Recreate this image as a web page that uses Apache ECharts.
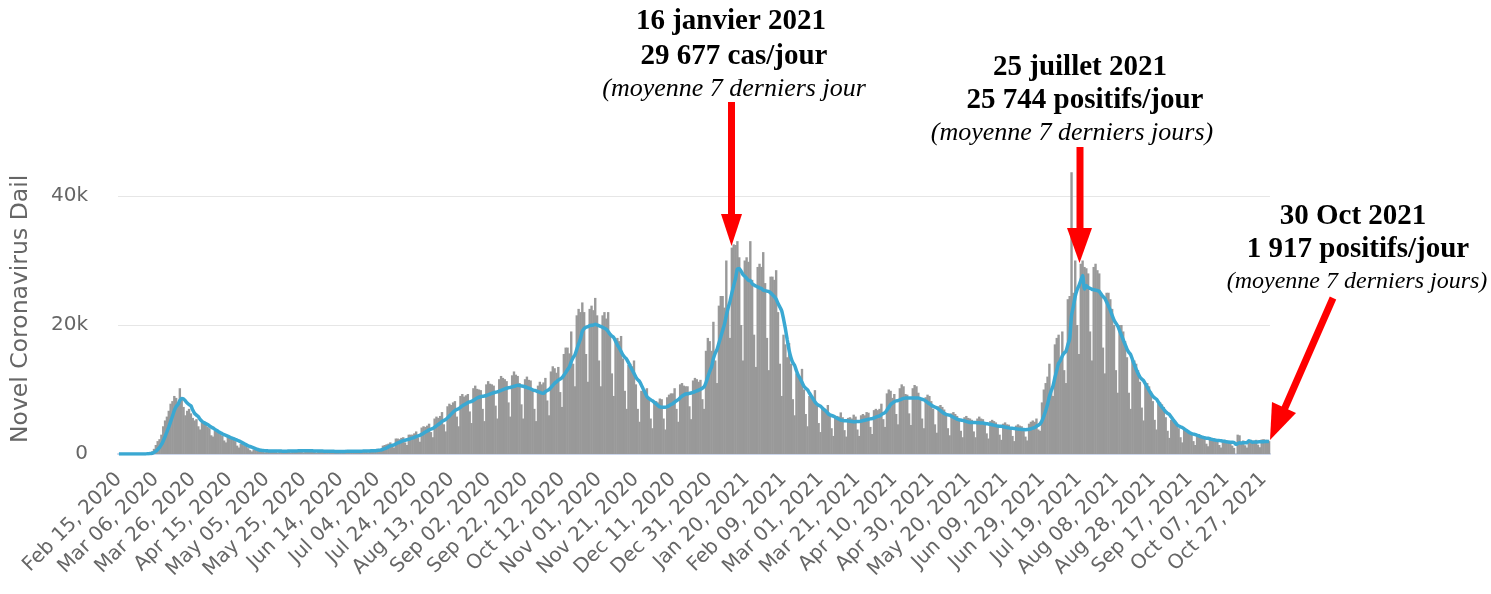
<!DOCTYPE html>
<html>
<head>
<meta charset="utf-8">
<title>France - cas quotidiens</title>
<script src="https://cdn.jsdelivr.net/npm/echarts@6/dist/echarts.min.js"></script>
<style>
  html, body { margin: 0; padding: 0; background: #fff; }
  #main { width: 1491px; height: 594px; }
</style>
</head>
<body>
<div id="main"></div>
<script>
// premier jour de la série : 15 février 2020
var startYear = 2020, startMonth = 1, startDay = 15;
var monthNames = ['Jan', 'Feb', 'Mar', 'Apr', 'May', 'Jun', 'Jul', 'Aug', 'Sep', 'Oct', 'Nov', 'Dec'];

// cas quotidiens, une ligne = une semaine (samedi -> vendredi)
var dailyCases = [
  0, 0, 0, 0, 0, 0, 0,
  0, 0, 0, 2, 4, 20, 40,
  30, 60, 100, 200, 400, 800, 1400,
  2000, 2300, 3000, 4300, 5200, 5800, 6700,
  7800, 8200, 9000, 8700, 7600, 10200, 8800,
  7300, 6000, 6700, 7000, 6300, 5600, 5200,
  5400, 4300, 3800, 5000, 4800, 4500, 4200,
  4000, 2900, 2700, 3600, 3500, 3300, 3100,
  2800, 2100, 1800, 2700, 2600, 2400, 2300,
  2000, 1300, 1000, 1600, 1500, 1300, 1200,
  900, 600, 400, 700, 650, 600, 500,
  550, 300, 250, 600, 550, 550, 500,
  480, 300, 200, 550, 550, 500, 500,
  500, 350, 250, 600, 600, 550, 550,
  550, 350, 250, 600, 600, 550, 550,
  500, 300, 200, 550, 550, 500, 500,
  450, 250, 200, 500, 480, 450, 450,
  450, 280, 200, 520, 500, 480, 480,
  500, 300, 200, 550, 550, 520, 500,
  550, 350, 250, 650, 650, 600, 600,
  800, 600, 500, 1300, 1400, 1500, 1600,
  1800, 1300, 1000, 2400, 2400, 2300, 2500,
  2600, 1800, 1400, 3000, 3000, 3000, 3200,
  3500, 2600, 1900, 4100, 4300, 4200, 4400,
  4700, 3400, 2600, 5500, 5800, 5600, 5900,
  6500, 4600, 3500, 7400, 7800, 7600, 8000,
  8200, 5800, 4300, 9000, 9300, 8900, 9100,
  9300, 6600, 4800, 10200, 10600, 10100, 10000,
  9900, 7000, 5100, 10800, 11300, 10900, 10800,
  10600, 7500, 5500, 11600, 12100, 11800, 11600,
  11300, 8000, 5800, 12200, 12800, 12300, 12100,
  11000, 7700, 5500, 11600, 12000, 11500, 11400,
  10000, 7000, 5100, 10600, 11200, 10800, 11100,
  11800, 8300, 6000, 12800, 13600, 13300, 12600,
  13500, 9600, 7300, 15500, 16500, 16500, 15600,
  19000, 14000, 10500, 21500, 22500, 22000, 23500,
  22000, 15500, 11200, 22500, 23000, 22300, 24200,
  21500, 14500, 10500, 21500, 22000, 21000, 22000,
  18500, 12500, 9000, 17500, 18000, 17500, 18300,
  14800, 9800, 7000, 13800, 14000, 13600, 14500,
  10800, 7000, 5000, 9800, 9900, 9600, 10200,
  8800, 5500, 4000, 8000, 8200, 8000, 8600,
  8500, 5500, 3800, 8800, 9200, 9400, 9400,
  10200, 7000, 5000, 10800, 11000, 10600, 10500,
  10500, 7400, 5400, 11400, 11800, 11600, 11200,
  11500, 8500, 7000, 16000, 18000, 17500, 16000,
  20500, 14500, 11000, 23000, 24500, 24500, 22700,
  30000, 23000, 18000, 32000, 32500, 32400, 33000,
  30500, 20000, 14500, 30000, 30500, 29800, 33000,
  27000, 18500, 13500, 29000, 29500, 29000, 31300,
  26500, 18000, 13000, 27500, 27500, 27000, 28500,
  22000, 14000, 9000, 18500, 17000, 15000, 17200,
  14000, 8500, 6000, 12500, 12000, 11500, 13200,
  10000, 6200, 4300, 9000, 8800, 8500, 9900,
  7500, 4800, 3400, 7000, 7000, 6800, 7600,
  6000, 4000, 2800, 5800, 5900, 5800, 6450,
  5700, 3700, 2700, 5600, 5700, 5500, 6100,
  5800, 3800, 2800, 6000, 6200, 6000, 6500,
  6400, 4200, 3100, 6800, 7000, 6800, 7000,
  7800, 5400, 4200, 9400, 10000, 9800, 8700,
  9300, 6200, 4600, 10200, 10800, 10500, 9300,
  9200, 6300, 4500, 10200, 10700, 10500, 9500,
  8500, 5500, 4000, 8800, 9200, 9000, 8200,
  7000, 4600, 3300, 7400, 7600, 7300, 6900,
  6000, 4000, 2900, 6300, 6500, 6200, 5900,
  5400, 3600, 2600, 5700, 5900, 5600, 5500,
  5300, 3500, 2600, 5500, 5800, 5500, 5400,
  4800, 3200, 2400, 5100, 5300, 5100, 4900,
  4400, 3000, 2200, 4700, 4900, 4600, 4550,
  4100, 2800, 2000, 4400, 4600, 4400, 4300,
  4000, 2700, 2100, 4700, 5000, 5200, 5000,
  5500, 3800, 3600, 8000, 10000, 11000, 12000,
  14000, 10000, 9000, 17000, 18000, 18500, 15000,
  19000, 13000, 11000, 24000, 24500, 43700, 25000,
  30000, 20000, 15500, 29500, 30000, 29000, 28800,
  28000, 19000, 14500, 29000, 29500, 28500, 28000,
  25000, 16500, 12500, 25000, 25000, 24000, 22500,
  20000, 13000, 9500, 20000, 20000, 19000, 17500,
  15000, 9500, 7000, 14500, 14500, 14000, 13000,
  11200, 7200, 5200, 11000, 11000, 10500, 9700,
  8200, 5300, 3800, 8000, 8000, 7700, 7300,
  5700, 3600, 2500, 5300, 5300, 5100, 4700,
  4000, 2600, 1800, 3800, 3900, 3700, 3300,
  3100, 2000, 1400, 3000, 3100, 2900, 2700,
  2500, 1600, 1200, 2500, 2500, 2400, 2350,
  2200, 1400, 1000, 2100, 2200, 2100, 1950,
  2000, 1300, 950, 0, 3000, 2900, 1890,
  2100, 1350, 1000, 2150, 2200, 2100, 2050,
  2200, 1450, 1050, 2250, 2300, 2200, 2200,
  2000
];

// graduations de l'axe vertical
var yTicks = [0, 20000, 40000];

function pad(n) { return n < 10 ? '0' + n : '' + n; }

// libellés de dates, un par jour
var dates = [];
for (var i = 0; i < dailyCases.length; i++) {
  var d = new Date(Date.UTC(startYear, startMonth, startDay + i));
  dates.push(monthNames[d.getUTCMonth()] + ' ' + pad(d.getUTCDate()) + ', ' + d.getUTCFullYear());
}

// moyenne des 7 derniers jours
var avg7 = dailyCases.map(function (v, i) {
  var from = Math.max(0, i - 6), s = 0;
  for (var j = from; j <= i; j++) s += dailyCases[j];
  return Math.round(s / (i - from + 1));
});

var axisFont = 'DejaVu Sans';
var serif = '"Liberation Serif", "Times New Roman", serif';

function note(x, y, txt, font) {
  return {
    type: 'text', x: x, y: y, z: 100,
    style: { text: txt, font: font, fill: '#000', align: 'center', verticalAlign: 'middle' }
  };
}
function shaft(x1, y1, x2, y2) {
  return { type: 'line', z: 100, shape: { x1: x1, y1: y1, x2: x2, y2: y2 },
           style: { stroke: '#ff0000', lineWidth: 7 } };
}
function head(pts) {
  return { type: 'polygon', z: 100, shape: { points: pts }, style: { fill: '#ff0000' } };
}

var myChart = echarts.init(document.getElementById('main'));

var option = {
  animation: false,
  backgroundColor: '#ffffff',
  grid: { left: 118, right: 221, top: 196, bottom: 140 },
  xAxis: {
    type: 'category',
    data: dates,
    boundaryGap: true,
    axisLine: { lineStyle: { color: '#ccd6eb', width: 2 } },
    axisTick: { show: false },
    axisLabel: {
      interval: 19,
      rotate: 45,
      margin: 22,
      color: '#666666',
      fontFamily: axisFont,
      fontSize: 20
    }
  },
  yAxis: {
    type: 'value',
    min: yTicks[0],
    max: yTicks[yTicks.length - 1],
    interval: yTicks[1] - yTicks[0],
    axisLine: { show: false },
    axisTick: { show: false },
    splitLine: { lineStyle: { color: '#e6e6e6', width: 1 } },
    axisLabel: {
      margin: 30,
      color: '#666666',
      fontFamily: axisFont,
      fontSize: 20,
      formatter: function (v) { return v === 0 ? '0' : (v / 1000) + 'k'; }
    }
  },
  series: [
    {
      name: 'Cas quotidiens',
      type: 'bar',
      data: dailyCases,
      barWidth: 2.4,
      clip: false,
      itemStyle: { color: '#999999' }
    },
    {
      name: 'Moyenne 7 jours',
      type: 'line',
      data: avg7,
      showSymbol: false,
      smooth: 0.2,
      lineStyle: { color: '#3aa8d2', width: 3.5 },
      z: 3
    }
  ],
  graphic: [
    {
      type: 'text', x: 21, y: 443, rotation: Math.PI / 2,
      style: { text: 'Novel Coronavirus Dail', font: '23.5px ' + axisFont, fill: '#666666',
               align: 'left', verticalAlign: 'middle' }
    },
    note(731, 22, '16 janvier 2021', 'bold 29px ' + serif),
    note(734, 57, '29 677 cas/jour', 'bold 29px ' + serif),
    note(734, 89, '(moyenne 7 derniers jour', 'italic 26px ' + serif),
    shaft(731.5, 102, 731.5, 216),
    head([[721, 214], [742, 214], [731.5, 246]]),

    note(1080, 68, '25 juillet 2021', 'bold 29px ' + serif),
    note(1085, 101, '25 744 positifs/jour', 'bold 29px ' + serif),
    note(1072, 133, '(moyenne 7 derniers jours)', 'italic 26px ' + serif),
    shaft(1080, 147, 1080, 230),
    head([[1067, 228], [1092, 228], [1079.5, 263]]),

    note(1353, 217, '30 Oct 2021', 'bold 29px ' + serif),
    note(1358, 250, '1 917 positifs/jour', 'bold 29px ' + serif),
    note(1357, 282, '(moyenne 7 derniers jours)', 'italic 24px ' + serif),
    shaft(1333, 298, 1284, 410),
    head([[1296, 413], [1272, 402], [1270, 440]])
  ]
};

myChart.setOption(option);
</script>
</body>
</html>
